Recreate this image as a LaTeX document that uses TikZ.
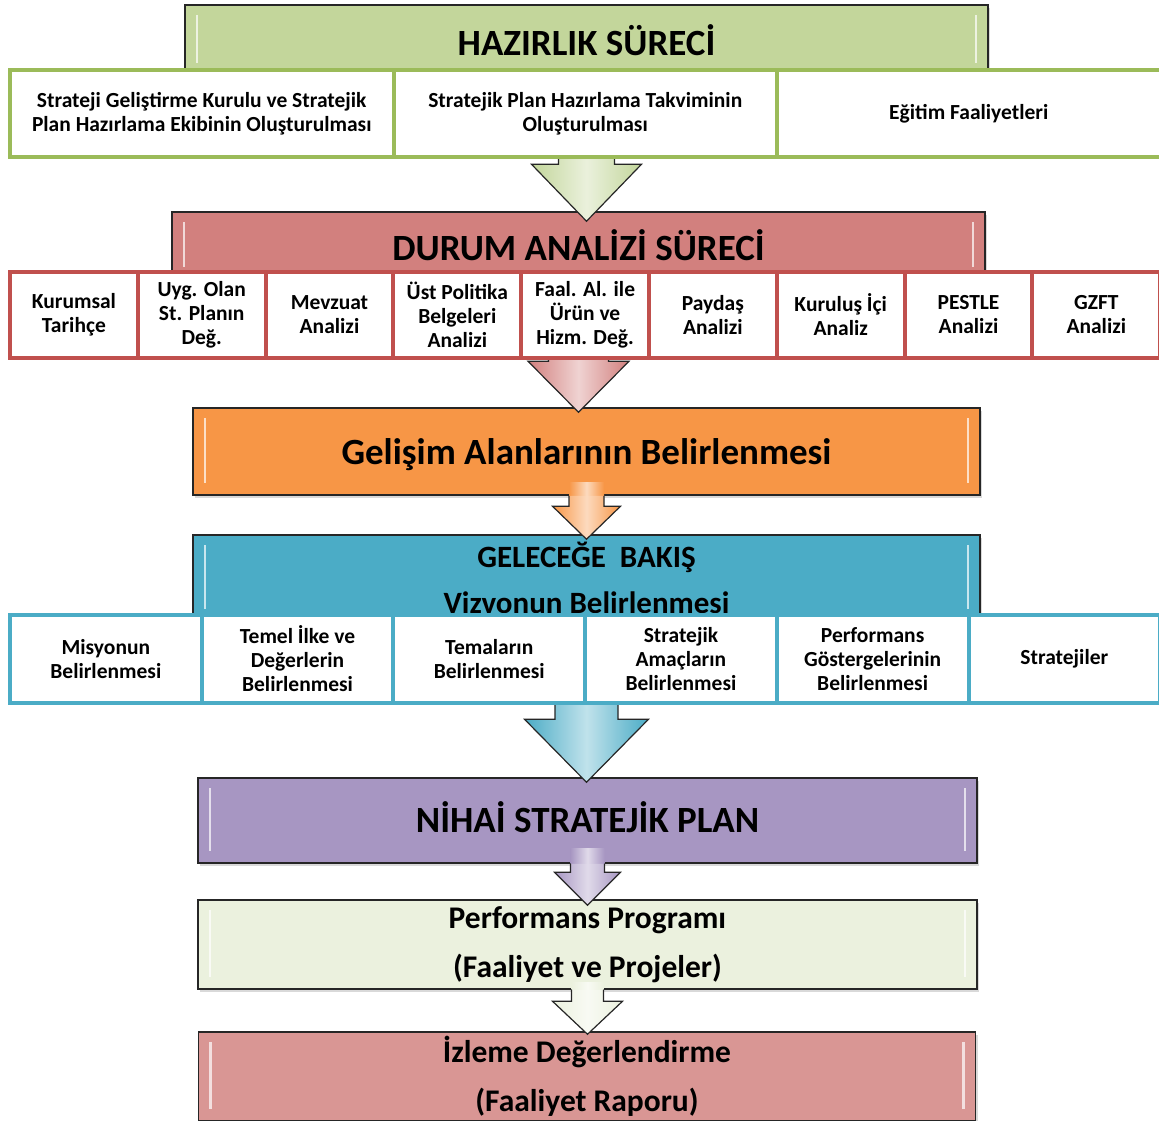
\documentclass[tikz,border=0pt]{standalone}
\usepackage{fontspec}
\setmainfont{Carlito}
\usetikzlibrary{calc,shadows}

\definecolor{hazirlikgreen}{RGB}{195,214,155}
\definecolor{hazirlikline}{RGB}{155,187,89}
\definecolor{durumred}{RGB}{210,128,126}
\definecolor{durumline}{RGB}{192,80,77}
\definecolor{gelisimorange}{RGB}{247,150,70}
\definecolor{gelecekblue}{RGB}{75,172,198}
\definecolor{nihaipurple}{RGB}{167,150,194}
\definecolor{perfcream}{RGB}{235,241,222}
\definecolor{izlemepink}{RGB}{217,150,148}

\tikzset{
  banner/.style={draw=black!85, line width=1.5pt, fill=#1, inner sep=0pt, align=center,
    drop shadow={shadow xshift=2pt, shadow yshift=-3pt, opacity=0.3},
    path picture={
      \draw[white, opacity=0.7, line width=2.5pt]
        ([shift={(12,10)}]path picture bounding box.north west) -- ([shift={(12,-12)}]path picture bounding box.south west)
        ([shift={(-12,10)}]path picture bounding box.north east) -- ([shift={(-12,-12)}]path picture bounding box.south east);
    }},
  cell/.style={draw=#1, line width=4pt, fill=white, inner sep=0pt, align=center,
    font=\fontsize{21.5}{24}\selectfont\bfseries},
  arrowline/.style={draw=black!85, line width=1.2pt, line join=miter}
}

% start, tip, colour, shaft half width, head half width, head length, glow above start
\newcommand{\flowarrow}[7]{%
  \fill[left color=#3, right color=#3, middle color=#3!35!white]
    let \p1=#1 in (\x1-#4pt,\y1) rectangle (\x1+#4pt,\y1+#7pt);
  \draw[arrowline, left color=#3, right color=#3, middle color=#3!35!white]
    let \p1=#1, \p2=#2 in
    (\x1-#4pt,\y1) -- (\x1-#4pt,\y2+#6pt) -- (\x1-#5pt,\y2+#6pt) -- (\x1,\y2)
    -- (\x1+#5pt,\y2+#6pt) -- (\x1+#4pt,\y2+#6pt) -- (\x1+#4pt,\y1);
}

\begin{document}
\begin{tikzpicture}[x=1pt,y=-1pt]
\useasboundingbox (0,0) rectangle (1159,1120);

% process banners
\node[banner=hazirlikgreen, minimum width=803pt, minimum height=70pt,
  font=\fontsize{37}{40}\selectfont\bfseries] (hazirlik) at (586.5,40) {HAZIRLIK SÜRECİ};
\node[banner=durumred, minimum width=813pt, minimum height=67pt,
  font=\fontsize{37}{40}\selectfont\bfseries] (durum) at (578.5,245.5) {DURUM ANALİZİ SÜRECİ};
\node[banner=gelisimorange, minimum width=787pt, minimum height=87pt, text depth=0pt,
  font=\fontsize{37}{40}\selectfont\bfseries] (gelisim) at (586.5,451.5) {Gelişim Alanlarının Belirlenmesi};
\node[banner=gelecekblue, minimum width=787pt, minimum height=86pt,
  font=\fontsize{31}{46}\selectfont\bfseries] (gelecek) at (586.5,578) {GELECEĞE\ \ BAKIŞ\\Vizvonun Belirlenmesi};
\node[banner=nihaipurple, minimum width=779pt, minimum height=85pt, text depth=6pt,
  font=\fontsize{37}{40}\selectfont\bfseries] (nihai) at (587.5,820.5) {NİHAİ STRATEJİK PLAN};
\node[banner=perfcream, minimum width=779pt, minimum height=89pt,
  font=\fontsize{31.5}{49}\selectfont\bfseries] (perf) at (587.5,944.5) {Performans Programı\\(Faaliyet ve Projeler)};
\node[banner=izlemepink, minimum width=777pt, minimum height=89pt,
  font=\fontsize{31.5}{49}\selectfont\bfseries] (izleme) at (587,1076.5) {İzleme Değerlendirme\\(Faaliyet Raporu)};

% block arrows
\flowarrow{(hazirlik.south |- 0,157)}{([yshift=-10pt]durum.north)}{hazirlikgreen}{28}{55}{57}{2}
\flowarrow{(durum.south |- 0,359)}{([yshift=-5pt]gelisim.north)}{durumred}{30}{50.5}{51}{2}
\flowarrow{(gelisim.south)}{([yshift=-5pt]gelecek.north)}{gelisimorange}{17.5}{34}{33}{13}
\flowarrow{(gelecek.south |- 0,703)}{([yshift=-5pt]nihai.north)}{gelecekblue}{31.5}{62}{63}{2}
\flowarrow{(nihai.south)}{([yshift=-6pt]perf.north)}{nihaipurple}{17}{33}{33}{15}
\flowarrow{(perf.south)}{([yshift=-3pt]izleme.north)}{perfcream}{16}{35}{33}{7}

% hazirlik row
\foreach \txt [count=\i] in {{Strateji Geliştirme Kurulu ve Stratejik\\Plan Hazırlama Ekibinin Oluşturulması},
    {Stratejik Plan Hazırlama Takviminin\\Oluşturulması}, {Eğitim Faaliyetleri}}
  \node[cell=hazirlikline, minimum width=383.5pt, minimum height=87pt] (r1c\i) at ({10+383.5*(\i-0.5)},113.5) {\txt};

% durum analizi row
\foreach \txt [count=\i] in {{Kurumsal\\Tarihçe}, {Uyg. Olan\\St. Planın\\Değ.}, {Mevzuat\\Analizi},
    {Üst Politika\\Belgeleri\\Analizi}, {Faal. Al. ile\\Ürün ve\\Hizm. Değ.}, {Paydaş\\Analizi},
    {Kuruluş İçi\\Analiz}, {PESTLE\\Analizi}, {GZFT\\Analizi}}
  \node[cell=durumline, minimum width=127.8pt, minimum height=86pt] (r2c\i) at ({10+127.8*(\i-0.5)},315) {\txt};

% gelecege bakis row
\foreach \txt [count=\i] in {{Misyonun\\Belirlenmesi}, {Temel İlke ve\\Değerlerin\\Belirlenmesi}, {Temaların\\Belirlenmesi},
    {Stratejik\\Amaçların\\Belirlenmesi}, {Performans\\Göstergelerinin\\Belirlenmesi}, {Stratejiler}}
  \node[cell=gelecekblue, minimum width=191.7pt, minimum height=88pt] (r3c\i) at ({10+191.7*(\i-0.5)},659) {\txt};

\end{tikzpicture}
\end{document}
